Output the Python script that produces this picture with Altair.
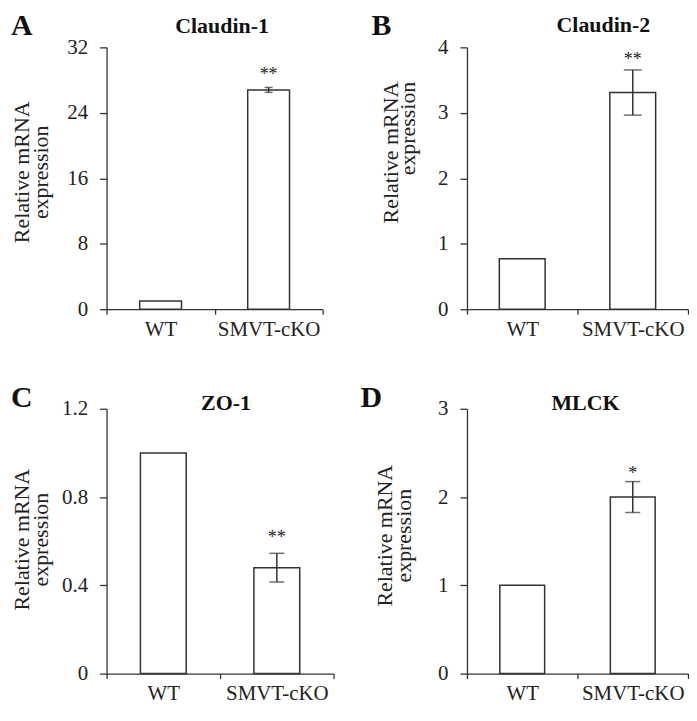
import altair as alt
import pandas as pd

# ---- data ----
panels = ["A", "B", "C", "D"]
genes = ["Claudin-1", "Claudin-2", "ZO-1", "MLCK"]
groups = ["WT", "SMVT-cKO"]
means = [[1.0, 26.8], [0.77, 3.31], [1.0, 0.48], [1.0, 2.0]]
errors = [[0.0, 0.3], [0.0, 0.345], [0.0, 0.065], [0.0, 0.175]]
stars = [["", "**"], ["", "**"], ["", "**"], ["", "*"]]
y_ticks = [[0, 8, 16, 24, 32], [0, 1, 2, 3, 4], [0, 0.4, 0.8, 1.2], [0, 1, 2, 3]]
y_title = ["Relative mRNA", "expression"]

# ---- layout / style ----
FONT = "Liberation Serif"
INK = "#222222"
LINE = "#333333"
widths = [217, 222, 228, 222]
heights = [263, 263, 266, 266]
bar_sizes = [42, 46, 46, 45]
cap_sizes = [8, 18, 15, 15]
star_dy = [-7, -5, -10, -3]
letter_x = [-96, -96, -96, -107]
letter_y = [-36, -36, -26, -26]
title_x = [116, 137, 120, 119]
title_y = [-31, -32, -16, -16]
ytitle_x = [-78, -70, -78, -76]
ytitle_y = [125, 34, 131, 127]
ytitle_align = ["center", "right", "center", "center"]
ytitle_lh = [19, 17, 19, 19]


def panel(i):
    df = pd.DataFrame({"group": groups, "mean": means[i], "err": errors[i], "star": stars[i]})
    df["lo"] = df["mean"] - df["err"]
    df["hi"] = df["mean"] + df["err"]
    err_df = df[df["err"] > 0]

    xscale = alt.Scale(domain=groups, paddingInner=0, paddingOuter=0)
    xaxis = alt.Axis(title=None, labelAngle=0, tickBand="extent")
    yscale = alt.Scale(domain=[0, y_ticks[i][-1]], nice=False, zero=True)
    yaxis = alt.Axis(
        values=y_ticks[i], format="~g", title=y_title,
        titleX=ytitle_x[i], titleY=ytitle_y[i], titleAngle=270,
        titleAlign=ytitle_align[i], titleBaseline="alphabetic",
        titleLineHeight=ytitle_lh[i],
    )

    def X():
        return alt.X("group:N", sort=groups, scale=xscale, axis=xaxis)

    bars = alt.Chart(df).mark_bar(
        fill="white", stroke=LINE, strokeWidth=1.5, size=bar_sizes[i]
    ).encode(x=X(), y=alt.Y("mean:Q", scale=yscale, axis=yaxis))

    rule = alt.Chart(err_df).mark_rule(color=LINE, strokeWidth=1.5).encode(
        x=X(), y=alt.Y("lo:Q", scale=yscale, axis=yaxis), y2="hi:Q"
    )
    cap_hi = alt.Chart(err_df).mark_tick(
        orient="horizontal", size=cap_sizes[i], thickness=1.5, color=LINE
    ).encode(x=X(), y=alt.Y("hi:Q", scale=yscale, axis=yaxis))
    cap_lo = alt.Chart(err_df).mark_tick(
        orient="horizontal", size=cap_sizes[i], thickness=1.5, color=LINE
    ).encode(x=X(), y=alt.Y("lo:Q", scale=yscale, axis=yaxis))
    star = alt.Chart(err_df).mark_text(
        dy=star_dy[i], fontSize=18, baseline="alphabetic", font=FONT, color=INK
    ).encode(x=X(), y=alt.Y("hi:Q", scale=yscale, axis=yaxis), text="star:N")

    letter = alt.Chart(pd.DataFrame({"t": [panels[i]]})).mark_text(
        align="left", baseline="top", fontSize=30, fontWeight="bold",
        font=FONT, color="#111111"
    ).encode(x=alt.value(letter_x[i]), y=alt.value(letter_y[i]), text="t:N")
    title = alt.Chart(pd.DataFrame({"t": [genes[i]]})).mark_text(
        align="center", baseline="top", fontSize=22, fontWeight="bold",
        font=FONT, color="#111111"
    ).encode(x=alt.value(title_x[i]), y=alt.value(title_y[i]), text="t:N")

    return alt.layer(bars, rule, cap_hi, cap_lo, star, letter, title).properties(
        width=widths[i], height=heights[i]
    )


chart = alt.concat(
    *[panel(i) for i in range(4)],
    columns=2,
    spacing={"row": 100, "column": 134},
    bounds="flush",
    align="none",
).properties(
    padding={"left": 3, "top": 2, "right": 0, "bottom": 0}, background="white"
).configure_view(
    stroke=None
).configure_axis(
    labelFont=FONT, labelFontSize=21, labelColor=INK,
    titleFont=FONT, titleFontSize=22, titleFontWeight="normal", titleColor=INK,
    domainColor=LINE, tickColor=LINE, domainWidth=1.3, tickWidth=1.3, grid=False,
).configure_axisY(
    tickSize=7, labelPadding=12
).configure_axisX(
    tickSize=5, labelPadding=4
)

chart.save("out.html", embed_options={"renderer": "svg", "actions": False})
